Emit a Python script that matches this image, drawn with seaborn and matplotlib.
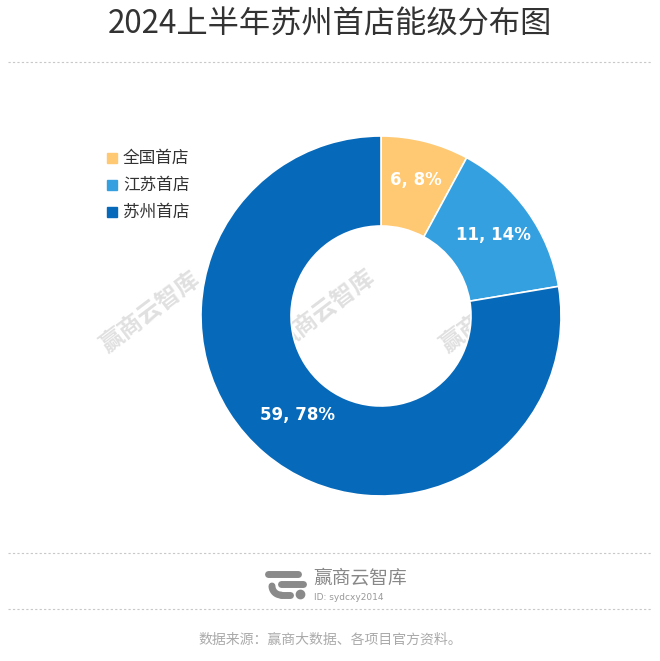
import matplotlib
matplotlib.use("Agg")
import matplotlib.pyplot as plt
import seaborn as sns
import numpy as np
from matplotlib.lines import Line2D
from matplotlib.patches import Rectangle

categories = ["全国首店", "江苏首店", "苏州首店"]
values = [6, 11, 59]
percents = ["8%", "14%", "78%"]
colors = ["#FFC872", "#35A0E0", "#0769B9"]

sns.set_theme(style="white")
plt.rcParams['font.family'] = ['Noto Sans CJK SC', 'DejaVu Sans']

fig = plt.figure(figsize=(6.60, 6.61), dpi=100)
W, H = 660, 661

def fx(x): return x / W
def fy(y): return 1 - y / H

# Title
fig.text(0.5, fy(25), "2024上半年苏州首店能级分布图", ha="center", va="center",
         fontsize=22.5, color="#333333")

# dashed separators
for yy in [62, 553, 609]:
    fig.add_artist(Line2D([fx(8), fx(652)], [fy(yy), fy(yy)], color="#c8c8c8",
                          lw=0.8, linestyle=(0, (2, 2))))

# watermarks (behind the donut)
for (x, y) in [(150, 312), (325, 310), (490, 312)]:
    t = fig.text(fx(x), fy(y), "赢商云智库", rotation=37, ha="center", va="center",
                 fontsize=17, color="#e0e0e0", fontweight="bold")
    t.set_zorder(-5)

# Pie axes: center (381,316), radius 180
r = 180
ax = fig.add_axes([fx(381 - r), fy(316 + r), 2 * r / W, 2 * r / H])
ax.set_zorder(1)
wedges, _ = ax.pie(values, colors=colors, startangle=90, counterclock=False,
                   radius=1.0, wedgeprops=dict(width=0.5, edgecolor="white", linewidth=1.2))
ax.set_aspect("equal")
ax.set_xlim(-1, 1)
ax.set_ylim(-1, 1)
ax.axis("off")

total = sum(values)
start = 90.0
label_r = [0.78, 0.77, 0.72]
for i, (v, p) in enumerate(zip(values, percents)):
    ang = start - v / total * 360 / 2
    start -= v / total * 360
    rad = np.deg2rad(ang)
    ax.text(label_r[i] * np.cos(rad), label_r[i] * np.sin(rad), f"{v}, {p}",
            ha="center", va="center", color="white", fontsize=12, fontweight="bold",
            family=["DejaVu Sans"])

# legend
for i, (c, lab) in enumerate(zip(colors, categories)):
    yy = 158 + i * 27
    fig.add_artist(Rectangle((fx(107), fy(yy + 5)), 10 / W, 10 / H, color=c,
                             transform=fig.transFigure))
    fig.text(fx(123), fy(yy), lab, ha="left", va="center", fontsize=12, color="#333333")

# logo
g = "#8a8a8a"
fig.add_artist(Line2D([fx(268), fx(298)], [fy(574), fy(574)], color=g, lw=5,
                      solid_capstyle="round"))
fig.add_artist(Line2D([fx(281), fx(303)], [fy(584), fy(584)], color=g, lw=5,
                      solid_capstyle="round"))
arc_x = fx(281) + 9 / W * np.cos(np.linspace(np.pi, np.pi * 1.5, 30))
arc_y = fy(586) + 9 / H * np.sin(np.linspace(np.pi, np.pi * 1.5, 30))
fig.add_artist(Line2D(arc_x, arc_y, color=g, lw=5, solid_capstyle="round"))
fig.add_artist(Line2D([fx(281), fx(290)], [fy(595), fy(595)], color=g, lw=5,
                      solid_capstyle="round"))
fig.add_artist(Line2D([fx(300)], [fy(594)], marker="o", color=g, markersize=6))
fig.text(fx(313), fy(578), "赢商云智库", ha="left", va="center", fontsize=13.5, color="#888888")
fig.text(fx(314), fy(597), "ID: sydcxy2014", ha="left", va="center", fontsize=6.5,
         color="#999999", family=["DejaVu Sans"])

# source
fig.text(0.5, fy(640), "数据来源：赢商大数据、各项目官方资料。", ha="center", va="center",
         fontsize=10, color="#aaaaaa")

fig.savefig("out.png", dpi=100)
